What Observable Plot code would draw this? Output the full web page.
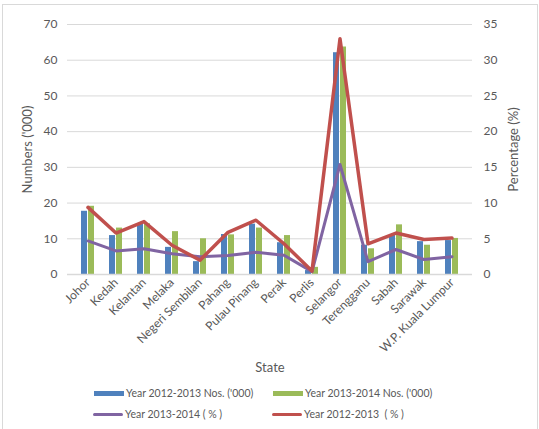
<!DOCTYPE html>
<html>
<head>
<meta charset="utf-8">
<script src="https://cdn.jsdelivr.net/npm/d3@7"></script>
<script src="https://cdn.jsdelivr.net/npm/@observablehq/plot@0.6"></script>
<style>
  html, body { margin: 0; padding: 0; background: #fff; }
  body { width: 539px; height: 429px; position: relative; overflow: hidden; font-family: Lato, "Open Sans", sans-serif; }
  #frame { position: absolute; left: 2px; top: 4px; width: 536px; height: 430px; box-sizing: border-box; border: 1px solid #d9d9d9; }
  #chart { position: absolute; left: 0; top: 0; }
  .leg { position: absolute; font-size: 10.5px; color: #595959; white-space: pre; line-height: 14px; }
  .sw { position: absolute; }
</style>
</head>
<body>
<div id="frame"></div>
<div id="chart"></div>
<div id="legend"></div>
<script>
// Registered cases by state, in thousands, and each state's share of the national total (%)
const states = ["Johor", "Kedah", "Kelantan", "Melaka", "Negeri Sembilan", "Pahang", "Pulau Pinang",
  "Perak", "Perlis", "Selangor", "Terengganu", "Sabah", "Sarawak", "W.P. Kuala Lumpur"];
const nos2012_13 = [17.7, 10.9, 14.0, 7.6, 3.6, 11.2, 14.1, 8.9, 1.1, 62.1, 8.2, 10.9, 9.2, 9.5];
const nos2013_14 = [19.1, 13.0, 14.2, 12.0, 10.0, 11.1, 13.0, 10.9, 2.0, 63.7, 7.2, 13.9, 8.2, 10.1];
const pct2013_14 = [4.7, 3.3, 3.6, 2.9, 2.5, 2.65, 3.1, 2.7, 0.4, 15.4, 1.8, 3.5, 2.1, 2.5];
const pct2012_13 = [9.4, 5.8, 7.4, 4.1, 2.0, 5.9, 7.6, 4.3, 0.5, 33.0, 4.3, 5.8, 4.9, 5.1];
const leftTicks = [0, 10, 20, 30, 40, 50, 60, 70];
const rightTicks = [0, 5, 10, 15, 20, 25, 30, 35];

const series = {
  blue: { name: "Year 2012-2013 Nos. ('000)", color: "#4f81bd" },
  green: { name: "Year 2013-2014 Nos. ('000)", color: "#9bbb59" },
  purple: { name: "Year 2013-2014 ( % )", color: "#8064a2" },
  red: { name: "Year 2012-2013  ( % )", color: "#c0504d" }
};

const rows = states.map((s, i) => ({
  state: s, a: nos2012_13[i], b: nos2013_14[i], p13: pct2013_14[i], p12: pct2012_13[i]
}));

// the percentage axis is half the scale of the numbers axis (35 vs 70)
const ratio = 70 / 35;

const W = 539, H = 375;
const bandInset = 7;
const gray = "#595959";

const chart = Plot.plot({
  width: W,
  height: H,
  marginLeft: 67,
  marginRight: 67,
  marginTop: 24,
  marginBottom: 101,
  style: { fontFamily: "Lato, 'Open Sans', sans-serif", fontSize: "12px", color: gray, background: "transparent" },
  x: { domain: states, paddingInner: 0.52, paddingOuter: 0.26 },
  y: { domain: [0, 70] },
  marks: [
    Plot.gridY(leftTicks, { stroke: "#d9d9d9", strokeOpacity: 1, strokeWidth: 1 }),
    Plot.barY(rows, { x: "state", y1: 0, y2: "a", fill: series.blue.color, insetRight: bandInset }),
    Plot.barY(rows, { x: "state", y1: 0, y2: "b", fill: series.green.color, insetLeft: bandInset }),
    Plot.ruleY([0], { stroke: "#d9d9d9", strokeWidth: 1.5 }),
    Plot.lineY(rows, { x: "state", y: d => d.p13 * ratio, stroke: series.purple.color, strokeWidth: 3 }),
    Plot.lineY(rows, { x: "state", y: d => d.p12 * ratio, stroke: series.red.color, strokeWidth: 3.5 }),
    Plot.axisY(leftTicks, {
      anchor: "left", tickSize: 0, tickPadding: 10, fontSize: 12,
      label: null
    }),
    Plot.axisY({
      anchor: "left", ticks: [], tickSize: 0, fontSize: 13,
      label: "Numbers ('000)", labelAnchor: "center", labelArrow: "none", labelOffset: 45
    }),
    Plot.axisY(rightTicks.map(t => t * ratio), {
      anchor: "right", tickSize: 0, tickPadding: 11, fontSize: 12,
      tickFormat: d => d / ratio, label: null
    }),
    Plot.axisY({
      anchor: "right", ticks: [], tickSize: 0, fontSize: 13,
      label: "Percentage (%)", labelAnchor: "center", labelArrow: "none", labelOffset: 45
    }),
    Plot.axisX({
      tickSize: 0, tickPadding: 6, tickRotate: -45, fontSize: 12,
      label: null
    }),
    Plot.axisX({
      ticks: [], tickSize: 0, fontSize: 13,
      label: "State", labelAnchor: "center", labelArrow: "none", labelOffset: 97
    })
  ]
});
document.getElementById("chart").appendChild(chart);

// legend below the plot
const legend = document.getElementById("legend");
const items = [
  { s: series.blue, kind: "box", x: 94, y: 393 },
  { s: series.green, kind: "box", x: 273, y: 393 },
  { s: series.purple, kind: "line", x: 93, y: 414 },
  { s: series.red, kind: "line", x: 272, y: 414 }
];
for (const it of items) {
  const sw = document.createElement("div");
  sw.className = "sw";
  const h = it.kind === "box" ? 5 : 3;
  sw.style.cssText = `left:${it.x}px;top:${it.y - h / 2}px;width:30px;height:${h}px;background:${it.s.color};` +
    (it.kind === "line" ? "border-radius:2px;" : "");
  legend.appendChild(sw);
  const t = document.createElement("div");
  t.className = "leg";
  t.textContent = it.s.name;
  t.style.left = (it.x + 32) + "px";
  t.style.top = (it.y - 7.5) + "px";
  legend.appendChild(t);
}
</script>
</body>
</html>
